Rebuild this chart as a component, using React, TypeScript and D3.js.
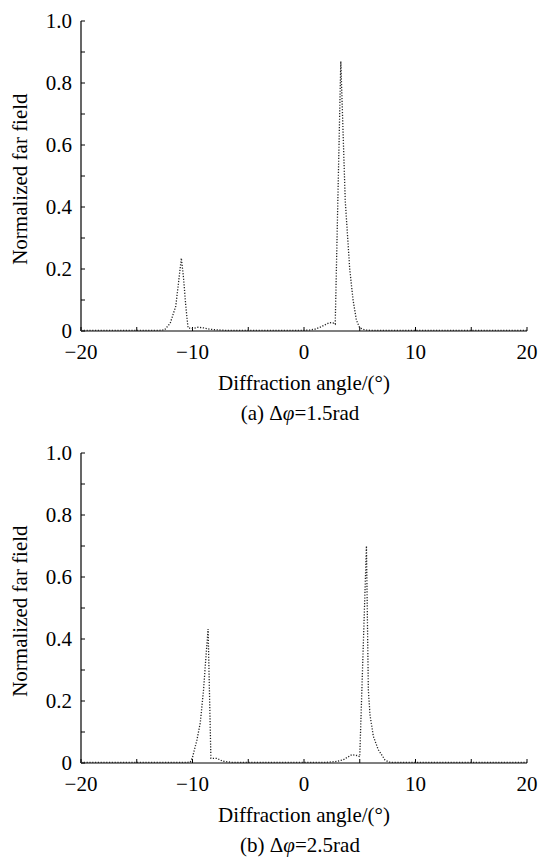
import React from "react";
import * as d3 from "d3";

// Panel (a): Δφ = 1.5 rad
const angleA = [-20, -16, -13, -12.5, -12, -11.5, -11, -10.8, -10.6, -10.4, -10, -9.5, -9, -8.5, -8, -7, -2, 0, 0.5, 1, 1.5, 2, 2.3, 2.6, 2.8, 3.3, 3.7, 4.1, 4.4, 4.7, 5.0, 5.5, 6, 20];
const fieldA = [0.002, 0.002, 0.002, 0.004, 0.025, 0.08, 0.235, 0.17, 0.08, 0.01, 0.008, 0.012, 0.01, 0.006, 0.004, 0.002, 0.002, 0.002, 0.003, 0.006, 0.013, 0.022, 0.027, 0.026, 0.022, 0.87, 0.42, 0.2, 0.1, 0.035, 0.01, 0.003, 0.002, 0.002];

// Panel (b): Δφ = 2.5 rad
const angleB = [-20, -10.5, -10.2, -10, -9.6, -9.3, -9.0, -8.8, -8.6, -8.35, -7.8, -7.3, -6.5, 2, 2.9, 3.5, 4.3, 4.8, 5.0, 5.6, 5.77, 5.92, 6.22, 6.66, 7.26, 7.6, 8, 20];
const fieldB = [0.002, 0.002, 0.003, 0.018, 0.075, 0.13, 0.24, 0.34, 0.432, 0.015, 0.015, 0.006, 0.002, 0.002, 0.005, 0.01, 0.027, 0.024, 0.02, 0.70, 0.236, 0.155, 0.086, 0.043, 0.01, 0.003, 0.002, 0.002];

const xMajorTicks = [-20, -10, 0, 10, 20];
const xAllTicks = [-20, -15, -10, -5, 0, 5, 10, 15, 20];
const yAllTicks = [0, 0.1, 0.2, 0.3, 0.4, 0.5, 0.6, 0.7, 0.8, 0.9, 1.0];
const yMajorTicks = [0, 0.2, 0.4, 0.6, 0.8, 1.0];
const yTickLabels = ["0", "0.2", "0.4", "0.6", "0.8", "1.0"];
const xTickLabels = ["\u221220", "\u221210", "0", "10", "20"];

const txt: React.CSSProperties = { fontFamily: "Liberation Serif, Times New Roman, DejaVu Serif, serif", fontSize: "21px" };

function Panel({ angles, values, top, caption, value }: { angles: number[]; values: number[]; top: number; caption: string; value: string }) {
  const x = d3.scaleLinear().domain([-20, 20]).range([81, 527]);
  const y = d3.scaleLinear().domain([0, 1]).range([top + 310, top]);
  const pts: [number, number][] = angles.map((a, i) => [a, values[i]]);
  const line = d3.line<[number, number]>().x((d) => x(d[0])).y((d) => y(d[1]));
  const y0 = y(0);
  const tl = 4;
  return (
    <g>
      <line x1={x(-20)} x2={x(20)} y1={y0} y2={y0} stroke="#000" strokeWidth={1.2} />
      <line x1={x(-20)} x2={x(-20)} y1={y0} y2={y(1)} stroke="#000" strokeWidth={1.2} />
      {xAllTicks.map((t) => (
        <line key={"xt" + t} x1={x(t)} x2={x(t)} y1={y0} y2={y0 - tl} stroke="#000" strokeWidth={1} />
      ))}
      {yAllTicks.map((t) => (
        <line key={"yt" + t} x1={x(-20)} x2={x(-20) + tl} y1={y(t)} y2={y(t)} stroke="#000" strokeWidth={1} />
      ))}
      {xMajorTicks.map((t, i) => (
        <text key={"xl" + t} x={x(t)} y={y0 + 28} textAnchor="middle" style={txt} fill="#000">
          {xTickLabels[i]}
        </text>
      ))}
      {yMajorTicks.map((t, i) => (
        <text key={"yl" + t} x={x(-20) - 9} y={y(t) + 7} textAnchor="end" style={txt} fill="#000">
          {yTickLabels[i]}
        </text>
      ))}
      <text transform={`translate(27, ${y(0.49)}) rotate(-90)`} textAnchor="middle" style={txt} fill="#000">
        Normalized far field
      </text>
      <text x={(x(-20) + x(20)) / 2} y={y0 + 59} textAnchor="middle" style={txt} fill="#000">
        Diffraction angle/(°)
      </text>
      <text x={300} y={y0 + 89} textAnchor="middle" style={txt} fill="#000">
        {caption} Δ<tspan fontStyle="italic">φ</tspan>
        {value}
      </text>
      <path d={line(pts) || ""} fill="none" stroke="#222" strokeWidth={1.3} strokeDasharray="1.2,1.6" />
    </g>
  );
}

export default function App() {
  return (
    <svg width={539} height={858} viewBox="0 0 539 858" style={{ position: "absolute", left: 0, top: 0, background: "#fff" }}>
      <rect x={0} y={0} width={539} height={858} fill="#fff" />
      <Panel angles={angleA} values={fieldA} top={21} caption="(a)" value="=1.5rad" />
      <Panel angles={angleB} values={fieldB} top={453} caption="(b)" value="=2.5rad" />
    </svg>
  );
}
